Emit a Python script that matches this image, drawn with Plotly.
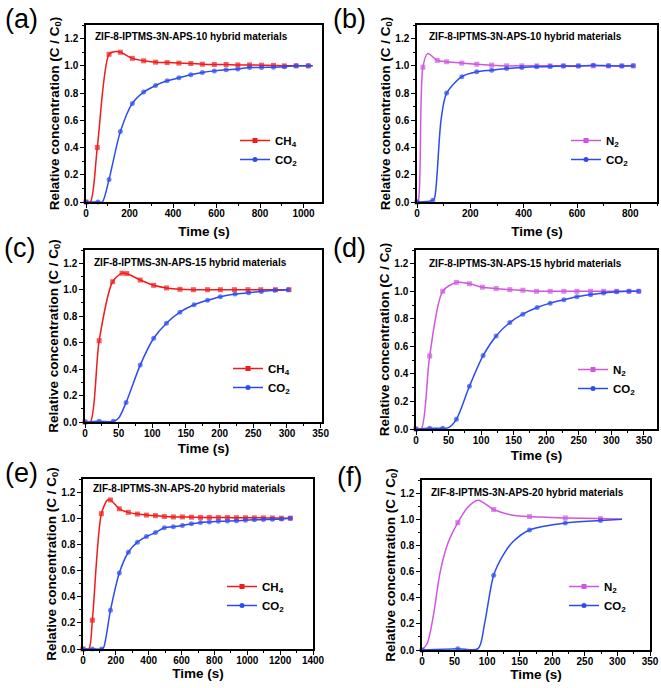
import plotly.graph_objects as go

W, H = 661, 688
FONT = "Liberation Sans, Arial, Helvetica, sans-serif"
RED, BLUE, MAG = "#F21A1A", "#2E4BF0", "#CF57E0"

# ---------------- data (time in s, relative concentration C/C0) ----------------
# (a) ZIF-8-IPTMS-3N-APS-10, CH4 / CO2
A_T_CH4 = [0, 20, 52, 106, 135, 158, 213, 265, 320, 373, 427, 482, 535, 590, 644, 698, 752, 807, 862, 912, 966, 1022, 1042]
A_CH4 = [0, 0.0, 0.40, 1.085, 1.105, 1.10, 1.055, 1.037, 1.027, 1.024, 1.02, 1.017, 1.012, 1.01, 1.01, 1.007, 1.007, 1.005, 1.003, 1.0, 1.0, 1.0, 1.0]
A_CH4_HIDE = [1, 4, 22]
A_T_CO2 = [0, 55, 75, 106, 158, 213, 265, 320, 373, 427, 482, 535, 590, 644, 698, 752, 807, 862, 912, 966, 1022, 1042]
A_CO2 = [0, 0.0, 0.0, 0.166, 0.517, 0.724, 0.807, 0.856, 0.89, 0.912, 0.934, 0.951, 0.963, 0.971, 0.976, 0.988, 0.988, 0.99, 0.993, 1.0, 1.0, 1.0]
A_CO2_HIDE = [2, 21]

# (b) ZIF-8-IPTMS-3N-APS-10, N2 / CO2
B_T_N2 = [0, 6, 22, 40, 76, 111, 168, 224, 280, 336, 393, 449, 499, 549, 605, 661, 718, 768, 811]
B_N2 = [0, 0.02, 0.99, 1.09, 1.04, 1.03, 1.02, 1.012, 1.005, 1.0, 1.0, 1.0, 1.0, 1.0, 1.0, 1.0, 1.0, 1.0, 1.0]
B_N2_HIDE = [1, 3]
B_T_CO2 = [0, 59, 66, 90, 111, 168, 224, 280, 336, 393, 449, 499, 549, 605, 661, 718, 768, 811]
B_CO2 = [0, 0.012, 0.03, 0.6, 0.80, 0.92, 0.956, 0.968, 0.98, 0.988, 0.993, 0.995, 0.998, 0.998, 1.005, 1.0, 0.998, 1.0]
B_CO2_HIDE = [2, 3]

# (c) ZIF-8-IPTMS-3N-APS-15, CH4 / CO2
C_T_CH4 = [0, 8, 21, 41, 55, 62, 82, 102, 121, 141, 161, 182, 201, 222, 242, 261, 283, 303]
C_CH4 = [0, 0.0, 0.614, 1.06, 1.125, 1.122, 1.073, 1.033, 1.013, 1.003, 1.0, 1.0, 1.0, 1.0, 1.0, 1.0, 1.0, 1.0]
C_CH4_HIDE = [1]
C_T_CO2 = [0, 21, 42, 50, 61, 82, 102, 121, 141, 162, 182, 201, 223, 243, 262, 282, 302]
C_CO2 = [0, 0.005, 0.005, 0.03, 0.147, 0.43, 0.633, 0.747, 0.83, 0.886, 0.92, 0.947, 0.967, 0.977, 0.987, 0.995, 1.0]
C_CO2_HIDE = [3]

# (d) ZIF-8-IPTMS-3N-APS-15, N2 / CO2
D_T_N2 = [0, 8, 21, 41, 62, 82, 102, 123, 144, 164, 185, 206, 227, 247, 268, 288, 308, 327, 342]
D_N2 = [0, 0.0, 0.53, 1.0, 1.065, 1.055, 1.03, 1.02, 1.012, 1.008, 1.0, 1.0, 1.0, 1.0, 1.0, 1.0, 1.0, 1.0, 1.0]
D_N2_HIDE = [1]
D_T_CO2 = [0, 21, 41, 50, 62, 82, 103, 123, 144, 164, 186, 206, 227, 247, 268, 288, 308, 327, 342]
D_CO2 = [0, 0.005, 0.005, 0.01, 0.07, 0.31, 0.533, 0.676, 0.773, 0.834, 0.882, 0.914, 0.938, 0.96, 0.975, 0.987, 0.996, 1.0, 1.0]
D_CO2_HIDE = [3]

# (e) ZIF-8-IPTMS-3N-APS-20, CH4 / CO2
E_T_CH4 = [0, 35, 57, 112, 150, 167, 221, 276, 331, 386, 441, 495, 550, 605, 660, 715, 769, 824, 879, 934, 989, 1043, 1098, 1153, 1208, 1262]
E_CH4 = [0, 0.0, 0.22, 1.035, 1.14, 1.14, 1.072, 1.045, 1.032, 1.024, 1.02, 1.013, 1.01, 1.01, 1.008, 1.006, 1.006, 1.005, 1.005, 1.004, 1.004, 1.003, 1.003, 1.002, 1.0, 1.0]
E_CH4_HIDE = [1, 4]
E_T_CO2 = [0, 57, 112, 125, 167, 221, 276, 331, 386, 441, 495, 550, 605, 660, 715, 769, 824, 879, 934, 989, 1043, 1098, 1153, 1208, 1262]
E_CO2 = [0, 0.0, 0.0, 0.01, 0.296, 0.582, 0.74, 0.817, 0.86, 0.89, 0.927, 0.935, 0.945, 0.957, 0.968, 0.972, 0.976, 0.978, 0.98, 0.985, 0.988, 0.99, 0.992, 0.995, 1.0]
E_CO2_HIDE = [3]

# (f) ZIF-8-IPTMS-3N-APS-20, N2 / CO2
F_T_N2 = [0, 8, 17, 28, 40, 55, 70, 86, 110, 135, 165, 220, 274, 307]
F_N2 = [0, 0.05, 0.25, 0.6, 0.82, 0.974, 1.09, 1.145, 1.074, 1.035, 1.02, 1.01, 1.005, 1.0]
F_N2_HIDE = [1, 2, 3, 4, 6, 7, 9, 13]
F_T_CO2 = [0, 55, 86, 96, 110, 125, 140, 165, 220, 274, 307]
F_CO2 = [0, 0.01, 0.01, 0.2, 0.572, 0.73, 0.83, 0.918, 0.972, 0.99, 1.0]
F_CO2_HIDE = [2, 3, 5, 6, 10]

TITLE10 = "ZIF-8-IPTMS-3N-APS-10 hybrid materials"
TITLE15 = "ZIF-8-IPTMS-3N-APS-15 hybrid materials"
TITLE20 = "ZIF-8-IPTMS-3N-APS-20 hybrid materials"
Y_TITLE = "Relative concentration (C / C<sub>0</sub>)"
X_TITLE = "Time (s)"
CH4, N2, CO2 = "CH<sub>4</sub>", "N<sub>2</sub>", "CO<sub>2</sub>"

panels = [
    dict(letter="(a)", title=TITLE10, box=(86, 322, 25, 202), xr=[0, 1085], dt=200,
         s=[(CH4, A_T_CH4, A_CH4, A_CH4_HIDE, RED, "square"), (CO2, A_T_CO2, A_CO2, A_CO2_HIDE, BLUE, "circle")],
         lxy=(21, 19), txy=(93, 37), leg=(275, 142), xso=9),
    dict(letter="(b)", title=TITLE10, box=(417, 657, 25, 202), xr=[0, 900], dt=200,
         s=[(N2, B_T_N2, B_N2, B_N2_HIDE, MAG, "square"), (CO2, B_T_CO2, B_CO2, B_CO2_HIDE, BLUE, "circle")],
         lxy=(350, 19), txy=(427, 37), leg=(606, 142), xso=9),
    dict(letter="(c)", title=TITLE15, box=(85, 322, 250, 422), xr=[0, 352], dt=50,
         s=[(CH4, C_T_CH4, C_CH4, C_CH4_HIDE, RED, "square"), (CO2, C_T_CO2, C_CO2, C_CO2_HIDE, BLUE, "circle")],
         lxy=(19, 248), txy=(92, 262), leg=(268, 370), xso=6),
    dict(letter="(d)", title=TITLE15, box=(416, 657, 250, 429), xr=[0, 370], dt=50,
         s=[(N2, D_T_N2, D_N2, D_N2_HIDE, MAG, "square"), (CO2, D_T_CO2, D_CO2, D_CO2_HIDE, BLUE, "circle")],
         lxy=(350, 248), txy=(427, 263), leg=(613, 371), xso=6),
    dict(letter="(e)", title=TITLE20, box=(83, 313, 479, 649), xr=[0, 1400], dt=200,
         s=[(CH4, E_T_CH4, E_CH4, E_CH4_HIDE, RED, "square"), (CO2, E_T_CO2, E_CO2, E_CO2_HIDE, BLUE, "circle")],
         lxy=(21, 473), txy=(91, 488), leg=(262, 588), xso=1),
    dict(letter="(f)", title=TITLE20, box=(422, 650, 480, 650), xr=[0, 350], dt=50,
         s=[(N2, F_T_N2, F_N2, F_N2_HIDE, MAG, "square"), (CO2, F_T_CO2, F_CO2, F_CO2_HIDE, BLUE, "circle")],
         lxy=(349, 477), txy=(429, 492), leg=(604, 588), xso=1),
]


def px(x):
    return x / W


def py(y):
    return 1 - y / H


fig = go.Figure()
annotations = []
layout = {}

for i, p in enumerate(panels, start=1):
    sfx = "" if i == 1 else str(i)
    xa, ya = "x" + sfx, "y" + sfx
    leg = "legend" + sfx
    x0, x1, y0, y1 = p["box"]
    for name, t, c, hide, color, sym in p["s"]:
        sizes = [0 if k in hide else 5 for k in range(len(t))]
        fig.add_trace(go.Scatter(
            x=t, y=c, name=name, mode="lines+markers", xaxis=xa, yaxis=ya, showlegend=False,
            line=dict(color=color, width=1.5, shape="spline", smoothing=0.8),
            marker=dict(size=sizes, symbol=sym, color=color, line=dict(width=0)),
            cliponaxis=False,
        ))
        # legend entry (no data)
        fig.add_trace(go.Scatter(
            x=[None], y=[None], name=name, mode="lines+markers", xaxis=xa, yaxis=ya, legend=leg,
            line=dict(color=color, width=1.5),
            marker=dict(size=5, symbol=sym, color=color, line=dict(width=0)),
            showlegend=True,
        ))
    axis_common = dict(
        showline=True, linecolor="black", linewidth=1.5, mirror=True,
        ticks="outside", ticklen=4, tickwidth=1.3, tickcolor="black",
        showgrid=False, zeroline=False, automargin=False,
        tickfont=dict(family=FONT, size=10, color="black", weight="bold"),
    )
    layout["xaxis" + sfx] = dict(
        axis_common, domain=[px(x0), px(x1)], range=p["xr"], dtick=p["dt"], tick0=0,
        anchor=ya, ticklabelstandoff=-3,
        minor=dict(ticks="outside", ticklen=2, tickwidth=1.1, tickcolor="black", dtick=p["dt"] / 2),
        title=dict(text=X_TITLE, standoff=p["xso"], font=dict(family=FONT, size=13.5, color="black", weight="bold")),
    )
    layout["yaxis" + sfx] = dict(
        axis_common, domain=[py(y1), py(y0)], range=[0, 1.3], dtick=0.2, tick0=0, tickformat=".1f",
        anchor=xa, minor=dict(ticks="outside", ticklen=2, tickwidth=1.1, tickcolor="black", dtick=0.1),
        title=dict(text=Y_TITLE, standoff=2, font=dict(family=FONT, size=13.5, color="black", weight="bold")),
    )
    lx, ly = p["leg"]
    layout[leg] = dict(
        x=px(lx - 40), y=py(ly - 16), xanchor="left", yanchor="top", xref="paper", yref="paper",
        bgcolor="rgba(0,0,0,0)", borderwidth=0, itemwidth=30, tracegroupgap=0,
        font=dict(family=FONT, size=11.5, color="black", weight="bold"),
    )
    annotations.append(dict(
        text=p["letter"], x=px(p["lxy"][0]), y=py(p["lxy"][1]), xref="paper", yref="paper",
        xanchor="center", yanchor="middle", showarrow=False,
        font=dict(family=FONT, size=27, color="black"),
    ))
    annotations.append(dict(
        text=p["title"], x=px(p["txy"][0]), y=py(p["txy"][1]), xref="paper", yref="paper",
        xanchor="left", yanchor="middle", showarrow=False,
        font=dict(family=FONT, size=10, color="black", weight="bold"),
    ))

fig.update_layout(
    width=W, height=H, margin=dict(l=0, r=0, t=0, b=0, autoexpand=False),
    paper_bgcolor="white", plot_bgcolor="white",
    font=dict(family=FONT, color="black"),
    annotations=annotations, **layout,
)

fig.write_html("out.html", config={"displayModeBar": False},
               post_script="document.body.style.margin='0px';")
